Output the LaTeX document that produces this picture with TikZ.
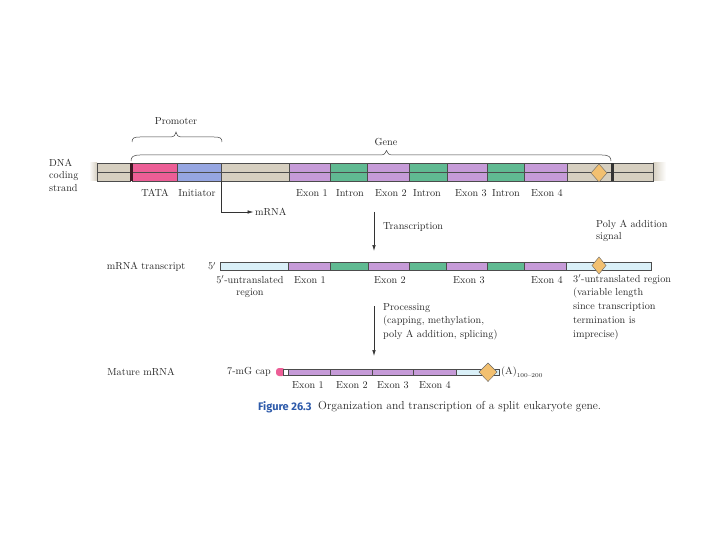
\documentclass[tikz,border=0pt]{standalone}
\usepackage{fontspec}
\newfontfamily\capfont{Fira Sans}
\usetikzlibrary{arrows.meta}
\definecolor{beigec}{RGB}{214,207,192}
\definecolor{pinkc}{RGB}{236,94,150}
\definecolor{bluec}{RGB}{150,166,226}
\definecolor{purplec}{RGB}{198,155,216}
\definecolor{greenc}{RGB}{96,186,146}
\definecolor{lbluec}{RGB}{218,240,248}
\definecolor{diamc}{RGB}{242,192,112}
\definecolor{markc}{RGB}{60,25,35}
\definecolor{figblue}{RGB}{45,90,170}
\definecolor{txtc}{RGB}{40,40,40}
\tikzset{
  lbl/.style={font=\fontsize{10.2}{12.5}\selectfont, inner sep=0pt, text=txtc},
  seg/.style={draw=black!70, line width=0.5pt},
  arr/.style={-{Latex[length=6pt,width=3.5pt]}, line width=0.6pt, draw=black!80},
  bracec/.style={draw=black!75, line width=0.5pt},
  diam/.style={fill=diamc, draw=black!60, line width=0.4pt},
}
\begin{document}
\begin{tikzpicture}[x=1pt,y=-1pt]
\useasboundingbox[fill=white] (0,0) rectangle (720,540);

% ---------- DNA ----------
\shade[left color=white, right color=beigec] (89,163) rectangle (97,181);
\shade[left color=beigec, right color=white] (653,163) rectangle (666,181);
\foreach \a/\b/\c in {97/130/beigec,132/177/pinkc,177/221/bluec,221/289/beigec,289/330/purplec,330/367/greenc,367/409/purplec,409/447/greenc,447/487/purplec,487/524/greenc,524/567/purplec,567/653/beigec}{
  \fill[\c] (\a,163) rectangle (\b,181);
  \draw[seg] (\a,163) rectangle (\b,181);
}
\draw[seg] (97,172) -- (653,172);
\fill[markc] (130,163) rectangle (132.5,181);
\fill[black!80] (611,163) rectangle (613.5,181);
\draw[diam] (599,164) -- (607,173) -- (599,182) -- (591,173) -- cycle;

\node[lbl, align=left, anchor=west] (dna) at (49,175) {DNA\\coding\\strand};

% braces
\coordinate (pa) at (132,142);
\coordinate (pb) at (222,142);
\draw[bracec] (pa) .. controls (132,138) and (134,137) .. (140,137) -- (170,137)
  .. controls (174,137) and (176,135) .. (176,132) .. controls (176,135) and (178,137) .. (182,137)
  -- (214,137) .. controls (220,137) and (222,138) .. (pb);
\node[lbl] (prom) at (176,121) {Promoter};

\coordinate (ga) at (131,161);
\coordinate (gb) at (611,161);
\draw[bracec] (ga) .. controls (131,157) and (133,155) .. (140,155) -- (380,155)
  .. controls (384,155) and (386,153.5) .. (386.5,150.5) .. controls (387,153.5) and (389,155) .. (393,155)
  -- (602,155) .. controls (609,155) and (611,157) .. (gb);
\node[lbl] (gene) at (386,142) {Gene};

% labels under DNA
\node[lbl] (tata) at (155,193) {TATA};
\node[lbl] (init) at (197,193) {Initiator};
\node[lbl] (dx1) at (312,193) {Exon 1};
\node[lbl] (di1) at (350,193) {Intron};
\node[lbl] (dx2) at (391,193) {Exon 2};
\node[lbl] (di2) at (427,193) {Intron};
\node[lbl] (dx3) at (471,193) {Exon 3};
\node[lbl] (di3) at (506,193) {Intron};
\node[lbl] (dx4) at (547,193) {Exon 4};

% mRNA start arrow
\coordinate (ms) at (221,181);
\node[lbl, anchor=west] (mrna) at (255,212) {mRNA};
\draw[arr, shorten >=1.5pt] (ms) |- (mrna.west);

% transcription arrow
\coordinate (t1) at (374,212);
\coordinate (t2) at (374,251);
\draw[arr] (t1) -- (t2);
\node[lbl, anchor=west] (trans) at (383,227) {Transcription};
\node[lbl, anchor=west, align=left] (polya) at (596,231) {Poly A addition\\signal};

% ---------- mRNA transcript ----------
\foreach \a/\b/\c in {220/288/lbluec,288/330/purplec,330/368/greenc,368/409/purplec,409/446/greenc,446/487/purplec,487/524/greenc,524/566/purplec,566/651/lbluec}{
  \fill[\c] (\a,262) rectangle (\b,270);
  \draw[seg] (\a,262) rectangle (\b,270);
}
\draw[diam] (599,257) -- (606,265.5) -- (599,274) -- (592,265.5) -- cycle;
\node[lbl] (mtl) at (146,267) {mRNA transcript};
\node[lbl] (five) at (212,266) {5$'$};
\node[lbl, align=center] (utr5) at (250,287) {5$'$-untranslated\\region};
\node[lbl] (tx1) at (310,280) {Exon 1};
\node[lbl] (tx2) at (390,280) {Exon 2};
\node[lbl] (tx3) at (469,280) {Exon 3};
\node[lbl, anchor=east] (tx4) at (563,280) {Exon 4};
\node[lbl, anchor=north west, align=left, font=\fontsize{10.2}{13.7}\selectfont] (utr3) at (573,274.5)
  {3$'$-untranslated region\\(variable length\\since transcription\\termination is\\imprecise)};

% processing arrow
\coordinate (p1) at (374,306);
\coordinate (p2) at (374,356);
\draw[arr] (p1) -- (p2);
\node[lbl, anchor=north west, align=left, font=\fontsize{10.2}{13.5}\selectfont] (proc) at (383,303)
  {Processing\\(capping, methylation,\\poly A addition, splicing)};

% ---------- Mature mRNA ----------
\fill[pinkc, rounded corners=3pt] (276,368) rectangle (285,376);
\fill[white] (283,369) rectangle (288,375);
\draw[seg] (283,369) rectangle (288,375);
\fill[purplec] (288,369) rectangle (456,375);
\foreach \a/\b in {288/330,330/372,372/413,413/456}{\draw[seg] (\a,369) rectangle (\b,375);}
\fill[lbluec] (456,369) rectangle (499,375);
\draw[seg] (456,369) rectangle (499,375);
\draw[diam] (488,363) -- (497,372) -- (488,381.5) -- (479,372) -- cycle;
\node[lbl] (mml) at (141,372) {Mature mRNA};
\node[lbl] (cap) at (249,372) {7-mG cap};
\node[lbl, anchor=west] (polyA) at (501,372) {(A)\raisebox{-2.5pt}{\fontsize{6}{7}\selectfont 100--200}};
\node[lbl] (mx1) at (308,385) {Exon 1};
\node[lbl] (mx2) at (352,385) {Exon 2};
\node[lbl] (mx3) at (393,385) {Exon 3};
\node[lbl] (mx4) at (435,385) {Exon 4};

% caption
\node[lbl, anchor=west, text=figblue, font=\capfont\bfseries\fontsize{11}{13}\selectfont] (fig) at (258,407) {Figure 26.3};
\node[lbl, anchor=west, font=\fontsize{11.6}{13}\selectfont] (captxt) at (318,407) {Organization and transcription of a split eukaryote gene.};
\end{tikzpicture}
\end{document}
